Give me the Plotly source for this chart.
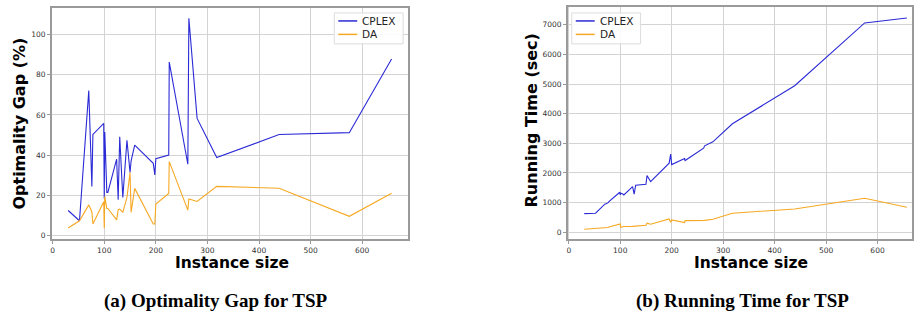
import plotly.graph_objects as go

# Optimality gap (%) vs instance size
gap_x = [30, 52, 70, 76, 78, 99, 100, 101, 105, 107, 124, 127, 130, 136, 144, 150, 152, 159,
         195, 198, 200, 225, 226, 262, 264, 280, 318, 439, 575, 657]
gap_cplex = [12.5, 7.4, 72.1, 24.5, 50.3, 55.8, 18.5, 51.5, 21.5, 21.5, 38.0, 17.8, 49.2, 19.0,
             47.4, 31.4, 37.1, 45.0, 36.0, 30.2, 38.3, 40.1, 86.3, 35.5, 108.1, 58.3, 38.8,
             50.3, 51.2, 87.8]
gap_da = [3.8, 7.4, 15.3, 11.9, 5.8, 16.8, 3.7, 19.5, 13.5, 13.5, 7.8, 12.9, 13.2, 11.6,
          19.0, 31.4, 11.6, 23.5, 5.8, 5.8, 15.7, 21.0, 36.8, 12.7, 18.2, 17.0, 24.5,
          23.6, 9.6, 21.1]

# Running time (sec) vs instance size
rt_x = [30, 52, 70, 76, 78, 99, 100, 101, 105, 107, 124, 127, 130, 136, 144, 150, 152, 159,
        195, 198, 200, 225, 226, 262, 264, 280, 318, 439, 575, 657]
rt_cplex = [628, 642, 946, 990, 1034, 1351, 1260, 1316, 1290, 1260, 1541, 1284, 1588, 1595,
            1610, 1622, 1912, 1709, 2331, 2635, 2284, 2487, 2420, 2838, 2916, 3050, 3659,
            4943, 7061, 7230]
rt_da = [101, 120, 135, 160, 175, 260, 280, 169, 190, 195, 200, 205, 215, 225, 230, 236,
         304, 270, 450, 337, 416, 327, 394, 380, 400, 439, 642, 787, 1149, 845]

series_names = ["CPLEX", "DA"]

W, H = 914, 323
BLUE = "#2a2ad6"
ORANGE = "#f7a823"
COLORS = [BLUE, ORANGE]

fig = go.Figure()
fig.add_trace(go.Scatter(x=gap_x, y=gap_cplex, mode="lines", name=series_names[0],
                         line=dict(color=BLUE, width=1.1), xaxis="x", yaxis="y"))
fig.add_trace(go.Scatter(x=gap_x, y=gap_da, mode="lines", name=series_names[1],
                         line=dict(color=ORANGE, width=1.1), xaxis="x", yaxis="y"))
fig.add_trace(go.Scatter(x=rt_x, y=rt_cplex, mode="lines", name=series_names[0],
                         line=dict(color=BLUE, width=1.1), xaxis="x2", yaxis="y2"))
fig.add_trace(go.Scatter(x=rt_x, y=rt_da, mode="lines", name=series_names[1],
                         line=dict(color=ORANGE, width=1.1), xaxis="x2", yaxis="y2"))


def px_x(p):
    return p / W


def px_y(p):
    return 1 - p / H


axis_common = dict(showgrid=True, gridcolor="#d3d3d3", gridwidth=1, zeroline=False,
                   showline=True, linecolor="#9a9a9a", linewidth=1.5, mirror=True,
                   ticks="outside", ticklen=3, tickcolor="#9a9a9a",
                   tickfont=dict(family="DejaVu Sans", size=7.5, color="#333333"))

fig.update_layout(
    width=W, height=H, margin=dict(l=0, r=0, t=0, b=0),
    paper_bgcolor="white", plot_bgcolor="white", showlegend=False,
    xaxis=dict(domain=[px_x(50), px_x(407)], range=[-1.5, 689], tickvals=[0, 100, 200, 300, 400, 500, 600],
               anchor="y", **axis_common),
    yaxis=dict(domain=[px_y(240), px_y(8)], range=[-1.8, 113.2], tickvals=[0, 20, 40, 60, 80, 100],
               anchor="x", **axis_common),
    xaxis2=dict(domain=[px_x(567), px_x(912)], range=[-2, 667], tickvals=[0, 100, 200, 300, 400, 500, 600],
                anchor="y2", **axis_common),
    yaxis2=dict(domain=[px_y(240), px_y(7)], range=[-236, 7600],
                tickvals=[0, 1000, 2000, 3000, 4000, 5000, 6000, 7000], anchor="x2", **axis_common),
)

# Manual legends (matplotlib-like compact boxes)
for bx in (333, 571):
    fig.add_shape(type="rect", xref="paper", yref="paper",
                  x0=px_x(bx), x1=px_x(bx + 69), y0=px_y(44), y1=px_y(13),
                  line=dict(color="#dcdcdc", width=1), fillcolor="rgba(255,255,255,0.9)", layer="above")
    for i, (nm, col) in enumerate(zip(series_names, COLORS)):
        yy = 21 + i * 13.5
        fig.add_shape(type="line", xref="paper", yref="paper",
                      x0=px_x(bx + 4), x1=px_x(bx + 23), y0=px_y(yy), y1=px_y(yy),
                      line=dict(color=col, width=1.5), layer="above")
        fig.add_annotation(xref="paper", yref="paper", x=px_x(bx + 26), y=px_y(yy), text=nm,
                           showarrow=False, xanchor="left", yanchor="middle",
                           font=dict(family="DejaVu Sans", size=10.5, color="#222"))

title_font = dict(family="DejaVu Sans", size=15.5, color="black")
ytitle_font = dict(family="DejaVu Sans", size=16, color="black")
cap_font = dict(family="Liberation Serif", size=19, color="black")
ann = [
    dict(text="<b>Instance size</b>", x=px_x(231), y=px_y(264), font=title_font),
    dict(text="<b>Instance size</b>", x=px_x(751), y=px_y(264), font=title_font),
    dict(text="<b>Optimality Gap (%)</b>", x=px_x(18), y=px_y(124), textangle=-90, font=ytitle_font),
    dict(text="<b>Running Time (sec)</b>", x=px_x(531), y=px_y(121), textangle=-90, font=ytitle_font),
    dict(text="<b>(a) Optimality Gap for TSP</b>", x=px_x(214), y=px_y(302), font=cap_font),
    dict(text="<b>(b) Running Time for TSP</b>", x=px_x(742), y=px_y(302), font=cap_font),
]
for a in ann:
    fig.add_annotation(xref="paper", yref="paper", showarrow=False, xanchor="center", yanchor="middle", **a)

fig.write_html("out.html")
